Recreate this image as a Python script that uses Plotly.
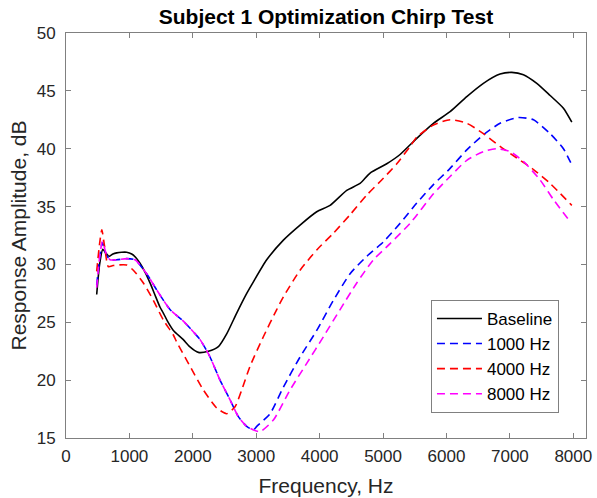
import plotly.graph_objects as go

# ---- data ----
base_f = [484, 530, 580, 625, 678, 740, 800, 880, 957, 1036, 1100, 1167, 1250, 1325, 1400, 1483, 1535,
          1600, 1693, 1850, 1950, 2087, 2245, 2403, 2534, 2692, 2850, 2955, 3165, 3428, 3691, 3954, 4164,
          4427, 4637, 4795, 5058, 5268, 5531, 5794, 6057, 6320, 6582, 6845, 7030, 7213, 7424, 7634, 7844, 7976]
base_v = [27.4, 30.0, 31.3, 31.0, 30.7, 30.9, 31.0, 31.05, 31.05, 30.9, 30.6, 30.1, 29.3, 28.4, 27.4, 26.3, 25.8,
          25.1, 24.3, 23.5, 22.9, 22.4, 22.5, 22.9, 24.0, 25.8, 27.5, 28.5, 30.4, 32.1, 33.4, 34.55, 35.1,
          36.4, 37.0, 37.9, 38.7, 39.5, 40.9, 42.2, 43.2, 44.5, 45.65, 46.45, 46.6, 46.4, 45.65, 44.6, 43.5, 42.3]

b1000_f = [484, 530, 573, 630, 694, 800, 957, 1088, 1272, 1430, 1640, 1850, 2114, 2271, 2429, 2587, 2718,
           2850, 2955, 3008, 3218, 3428, 3691, 3954, 4217, 4480, 4743, 5005, 5268, 5531, 5794, 6057, 6320,
           6582, 6845, 7135, 7372, 7634, 7844, 7976]
b1000_v = [28.2, 30.5, 31.9, 30.9, 30.4, 30.4, 30.5, 30.4, 29.2, 27.8, 26.1, 25.1, 23.5, 22.0, 20.0, 18.3, 16.85,
           16.0, 15.7, 16.0, 17.1, 19.4, 22.0, 24.3, 26.9, 29.2, 30.7, 31.95, 33.55, 35.3, 36.9, 38.3, 39.9,
           41.2, 42.2, 42.7, 42.5, 41.3, 40.0, 38.6]

b4000_f = [484, 530, 565, 610, 668, 740, 800, 957, 1062, 1220, 1377, 1535, 1693, 1746, 1956, 2166, 2376,
           2534, 2666, 2771, 2902, 3112, 3323, 3428, 3691, 3954, 4217, 4480, 4743, 5005, 5216, 5426, 5531,
           5794, 6057, 6320, 6582, 6845, 7109, 7372, 7634, 7976]
b4000_v = [29.4, 31.8, 33.0, 31.5, 29.8, 29.9, 29.95, 29.95, 29.5, 28.4, 26.9, 25.2, 23.9, 23.3, 21.2, 19.15, 17.6,
           17.1, 17.7, 19.15, 21.2, 23.75, 26.1, 27.2, 29.5, 31.25, 32.7, 34.3, 36.0, 37.45, 38.7, 40.2, 41.0,
           42.05, 42.5, 42.2, 41.3, 40.2, 39.2, 38.2, 37.0, 35.1]

b8000_f = [484, 530, 573, 630, 694, 800, 957, 1088, 1272, 1430, 1640, 1850, 2114, 2271, 2429, 2587, 2718,
           2850, 2955, 3060, 3270, 3533, 3796, 4059, 4322, 4585, 4848, 5110, 5426, 5794, 6057, 6320, 6582,
           6793, 7003, 7213, 7476, 7687, 7950]
b8000_v = [28.0, 30.6, 32.0, 31.0, 30.4, 30.4, 30.5, 30.4, 29.2, 27.8, 26.1, 25.1, 23.5, 22.0, 20.0, 18.3, 16.85,
           16.0, 15.7, 15.55, 16.55, 19.15, 21.45, 23.75, 26.1, 28.4, 30.4, 31.8, 33.55, 36.1, 37.6, 39.0, 39.75,
           40.0, 39.75, 38.9, 37.3, 35.6, 33.7]

series_names = ["Baseline", "1000 Hz", "4000 Hz", "8000 Hz"]
x_ticks = [0, 1000, 2000, 3000, 4000, 5000, 6000, 7000, 8000]
y_ticks = [15, 20, 25, 30, 35, 40, 45, 50]

FONT = "Liberation Sans, Arial, sans-serif"

fig = go.Figure()
styles = [
    (base_f, base_v, "#000000", "solid"),
    (b1000_f, b1000_v, "#0000ff", "8px,5px"),
    (b4000_f, b4000_v, "#ff0000", "8px,5px"),
    (b8000_f, b8000_v, "#ff00ff", "8px,5px"),
]
for name, (fx, fy, col, dash) in zip(series_names, styles):
    fig.add_trace(go.Scatter(
        x=fx, y=fy, mode="lines", name=name,
        line=dict(color=col, width=1.6, dash=dash, shape="spline", smoothing=0.6),
    ))

axis_common = dict(
    showline=True, linecolor="#808080", linewidth=1, mirror="ticks",
    ticks="inside", ticklen=5, tickcolor="#808080", showgrid=False, zeroline=False,
    tickfont=dict(family=FONT, size=17, color="#262626"), automargin=False,
)
fig.update_xaxes(range=[0, 8200], tickvals=x_ticks, ticktext=[str(t) for t in x_ticks],
                 ticklabelstandoff=3,
                 title=dict(text="Frequency, Hz", font=dict(family=FONT, size=21, color="#262626"), standoff=12),
                 **axis_common)
fig.update_yaxes(range=[15, 50], tickvals=y_ticks, ticktext=[str(t) for t in y_ticks],
                 ticklabelstandoff=6,
                 title=dict(text="Response Amplitude, dB", font=dict(family=FONT, size=21, color="#262626"), standoff=4),
                 **axis_common)

fig.update_layout(
    width=597, height=498,
    margin=dict(l=66, r=11, t=33, b=60),
    paper_bgcolor="white", plot_bgcolor="white",
    title=dict(text="<b>Subject 1 Optimization Chirp Test</b>", x=0.546, xanchor="center", y=0.966, yanchor="middle",
               font=dict(family=FONT, size=21, color="#000000"), automargin=False),
    legend=dict(x=0.948, xanchor="right", y=0.062, yanchor="bottom",
                bgcolor="white", bordercolor="#808080", borderwidth=1,
                font=dict(family=FONT, size=17, color="#000000"),
                tracegroupgap=0, itemwidth=45),
    showlegend=True,
)

fig.write_html("out.html", config={"displayModeBar": False},
               post_script="document.body.style.margin='0';document.body.style.overflow='hidden';")
